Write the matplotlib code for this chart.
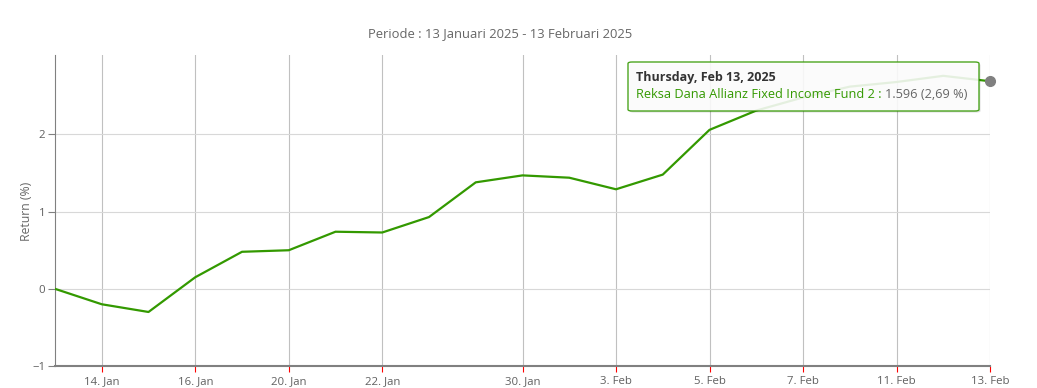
import matplotlib
matplotlib.use("Agg")
import matplotlib.pyplot as plt
from matplotlib.patches import FancyBboxPatch

plt.rcParams['font.family'] = ['Open Sans', 'DejaVu Sans']

# trading days (13 Jan - 13 Feb 2025) and cumulative return (%)
tanggal = ["13 Jan", "14 Jan", "15 Jan", "16 Jan", "17 Jan", "20 Jan", "21 Jan",
           "22 Jan", "23 Jan", "24 Jan", "30 Jan", "31 Jan", "3 Feb", "4 Feb",
           "5 Feb", "6 Feb", "7 Feb", "10 Feb", "11 Feb", "12 Feb", "13 Feb"]
return_pct = [0.00, -0.20, -0.30, 0.15, 0.48, 0.50, 0.74, 0.73, 0.93, 1.38, 1.47,
              1.44, 1.29, 1.48, 2.06, 2.31, 2.48, 2.62, 2.68, 2.76, 2.69]
tick_idx = [1, 3, 5, 7, 10, 12, 14, 16, 18, 20]
tick_labels = ["14. Jan", "16. Jan", "20. Jan", "22. Jan", "30. Jan",
               "3. Feb", "5. Feb", "7. Feb", "11. Feb", "13. Feb"]

W, H = 1037, 388
fig = plt.figure(figsize=(W / 100, H / 100), dpi=100)
ax = fig.add_axes([55 / W, 1 - 366 / H, 935 / W, 311 / H])

x = list(range(len(tanggal)))
ax.plot(x, return_pct, color='#339900', lw=1.6, zorder=3, solid_joinstyle='round')

ax.set_xlim(0, len(tanggal) - 1)
ax.set_ylim(-1, 3.03)
ax.set_yticks([-1, 0, 1, 2])
ax.set_xticks(tick_idx)
ax.set_xticklabels(tick_labels)

ax.grid(axis='y', color='#d8d8d8', lw=0.8)
ax.grid(axis='x', color='#c0c0c0', lw=0.8)
ax.set_axisbelow(True)
for s in ['top', 'right']:
    ax.spines[s].set_visible(False)
ax.spines['left'].set_color('#808080')
ax.spines['left'].set_linewidth(0.8)
ax.spines['bottom'].set_color('#808080')
ax.spines['bottom'].set_linewidth(1.5)
ax.tick_params(axis='x', colors='#ff0000', length=4, width=0.8, labelsize=8.2,
               labelcolor='#606060', pad=3)
ax.tick_params(axis='y', colors='#808080', length=5, width=0.8, labelsize=8.2,
               labelcolor='#606060', pad=2)

fig.text(26 / W, 1 - 211 / H, 'Return (%)', rotation=90, ha='center', va='center',
         color='#666666', fontsize=8.8)
fig.text(500 / W, 1 - 34 / H, 'Periode : 13 Januari 2025 - 13 Februari 2025',
         ha='center', va='center', fontsize=9.4, color='#666666')

# tooltip
x0, y0, x1, y1 = 628, 62, 979, 111
shadow = FancyBboxPatch((x0 / W + 0.0015, 1 - y1 / H - 0.004), (x1 - x0) / W, (y1 - y0) / H,
                        boxstyle='round,pad=0,rounding_size=0.004', transform=fig.transFigure,
                        facecolor='#000000', alpha=0.12, edgecolor='none', zorder=5)
box = FancyBboxPatch((x0 / W, 1 - y1 / H), (x1 - x0) / W, (y1 - y0) / H,
                     boxstyle='round,pad=0,rounding_size=0.004', transform=fig.transFigure,
                     facecolor='white', alpha=0.88, edgecolor='#339900', lw=1, zorder=6)
fig.patches.extend([shadow, box])
fig.text(636 / W, 1 - 77 / H, 'Thursday, Feb 13, 2025', fontsize=9, fontweight='bold',
         color='#333333', va='center', zorder=7)
t1 = fig.text(636 / W, 1 - 94 / H, 'Reksa Dana Allianz Fixed Income Fund 2 : ',
              fontsize=9.2, color='#339900', va='center', zorder=7)
r = fig.canvas.get_renderer()
bb = t1.get_window_extent(r)
fig.text(bb.x1 / W, 1 - 94 / H, '1.596 (2,69 %)', fontsize=9.2, color='#666666',
         va='center', zorder=7)

# hover marker on last point
ax.plot([x[-1]], [return_pct[-1]], 'o', color='#808080', ms=7, clip_on=False, zorder=10)

fig.savefig('out.png', dpi=100)
